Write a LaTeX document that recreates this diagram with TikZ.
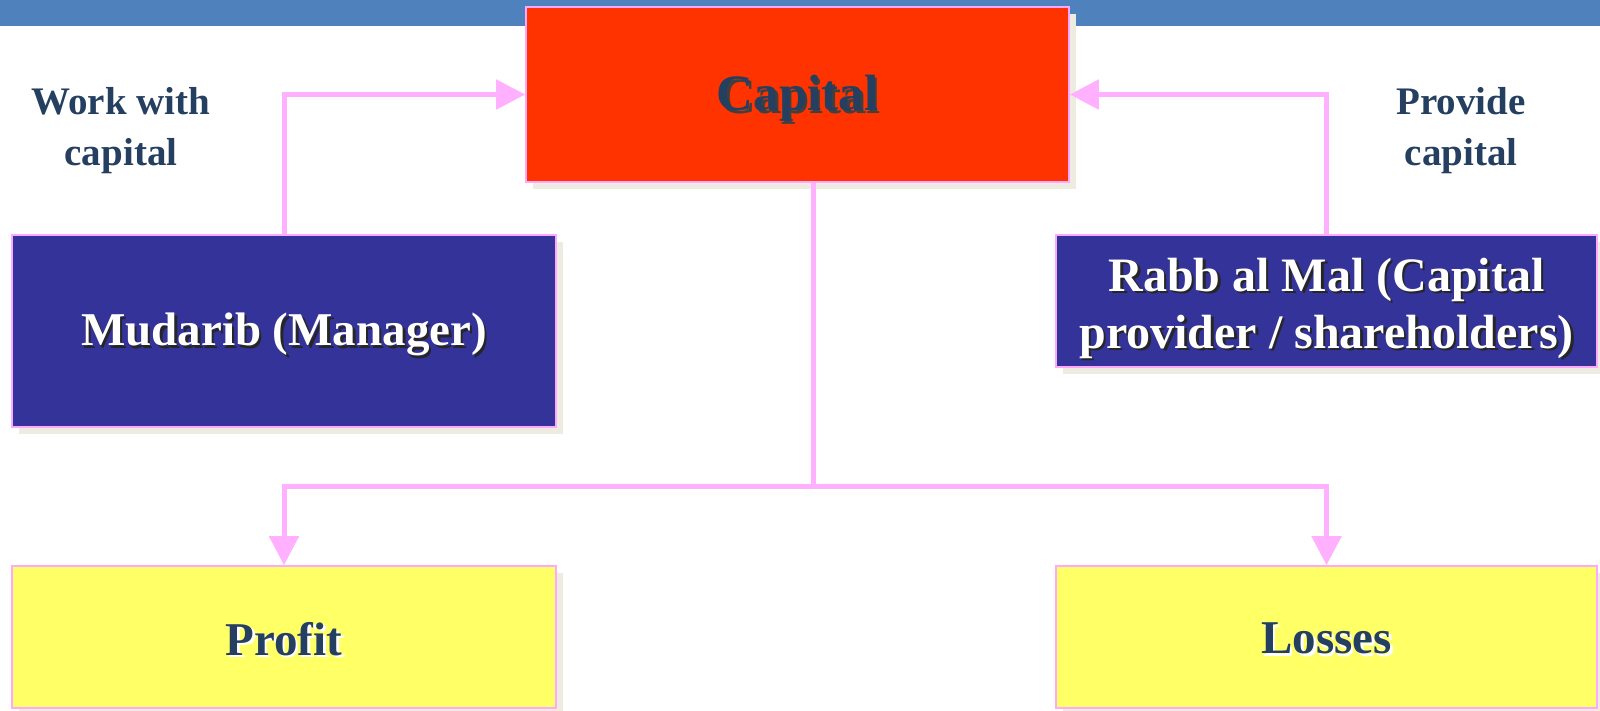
\documentclass[tikz,border=0pt]{standalone}
\usepackage{fontspec}
\setmainfont{Liberation Serif}
\usetikzlibrary{arrows.meta,shadows}

\definecolor{bandblue}{HTML}{4F81BD}
\definecolor{capred}{HTML}{FF3300}
\definecolor{roleblue}{HTML}{333399}
\definecolor{resultyellow}{HTML}{FFFF66}
\definecolor{linkpink}{HTML}{FFB0FF}
\definecolor{edgepink}{HTML}{FFA8FF}
\definecolor{inkblue}{HTML}{243F60}
\definecolor{boxshade}{HTML}{EEECE1}

% text with a soft offset copy underneath
\newcommand\shadowed[2]{\makebox[0pt][l]{\hspace{2.5pt}\raisebox{-2.5pt}{\textcolor{#1}{#2}}}#2}
% lower a label a little inside its box, keeping the box's own size
\newcommand\lowered[2]{\raisebox{-#1}[\height][\depth]{#2}}

\tikzset{
  card/.style={draw=edgepink, line width=1.6pt, inner sep=0pt, align=center,
    drop shadow={shadow xshift=7pt, shadow yshift=-7pt, fill=boxshade, opacity=1},
    font=\bfseries\fontsize{47}{58}\selectfont},
  link/.style={draw=linkpink, line width=5pt},
  linkarrow/.style={link, -{Triangle[length=29pt,width=29pt]}},
  sidenote/.style={text=inkblue, align=center, font=\bfseries\fontsize{39}{51}\selectfont}
}

\begin{document}
\begin{tikzpicture}[x=1pt,y=-1pt]
\useasboundingbox (0,0) rectangle (1600,710);
\fill[white] (0,0) rectangle (1600,710);

% title band
\fill[bandblue] (0,0) rectangle (1600,26);

% boxes
\node[card, fill=capred, text=inkblue, minimum width=543pt, minimum height=175pt,
  font=\bfseries\fontsize{51}{60}\selectfont]
  (cap) at (797.5,94.5) {\lowered{5pt}{\shadowed{black!75}{Capital}}};
\node[card, fill=roleblue, text=white, minimum width=544pt, minimum height=192pt]
  (mud) at (284,331) {\lowered{5pt}{\shadowed{black!85}{Mudarib (Manager)}}};
\node[card, fill=roleblue, text=white, minimum width=541pt, minimum height=132pt,
  font=\bfseries\fontsize{48}{58}\selectfont]
  (rabb) at (1326.5,301) {\lowered{7pt}{\begin{tabular}{@{}c@{}}\shadowed{black!85}{Rabb al Mal (Capital}\\[-1pt]\shadowed{black!85}{provider / shareholders)}\end{tabular}}};
\node[card, fill=resultyellow, text=inkblue, minimum width=544pt, minimum height=142pt]
  (profit) at (284,637) {\lowered{3pt}{\shadowed{white}{Profit}}};
\node[card, fill=resultyellow, text=inkblue, minimum width=541pt, minimum height=142pt]
  (loss) at (1326.5,637) {\lowered{3pt}{\shadowed{white}{Losses}}};

% side notes
\node[sidenote] (worknote) at (121,131) {Work with\\capital};
\node[sidenote] (providenote) at (1461,131) {Provide\\capital};

% connectors
\draw[linkarrow] (mud.north) |- (cap.west);
\draw[linkarrow] (rabb.north) |- (cap.east);
\coordinate (drop) at ([xshift=15.5pt]cap.south);
\coordinate (split) at (813,486);
\draw[link] (drop) -- (split);
\draw[linkarrow] (split) -| (profit.north);
\draw[linkarrow] (split) -| (loss.north);
\end{tikzpicture}
\end{document}
